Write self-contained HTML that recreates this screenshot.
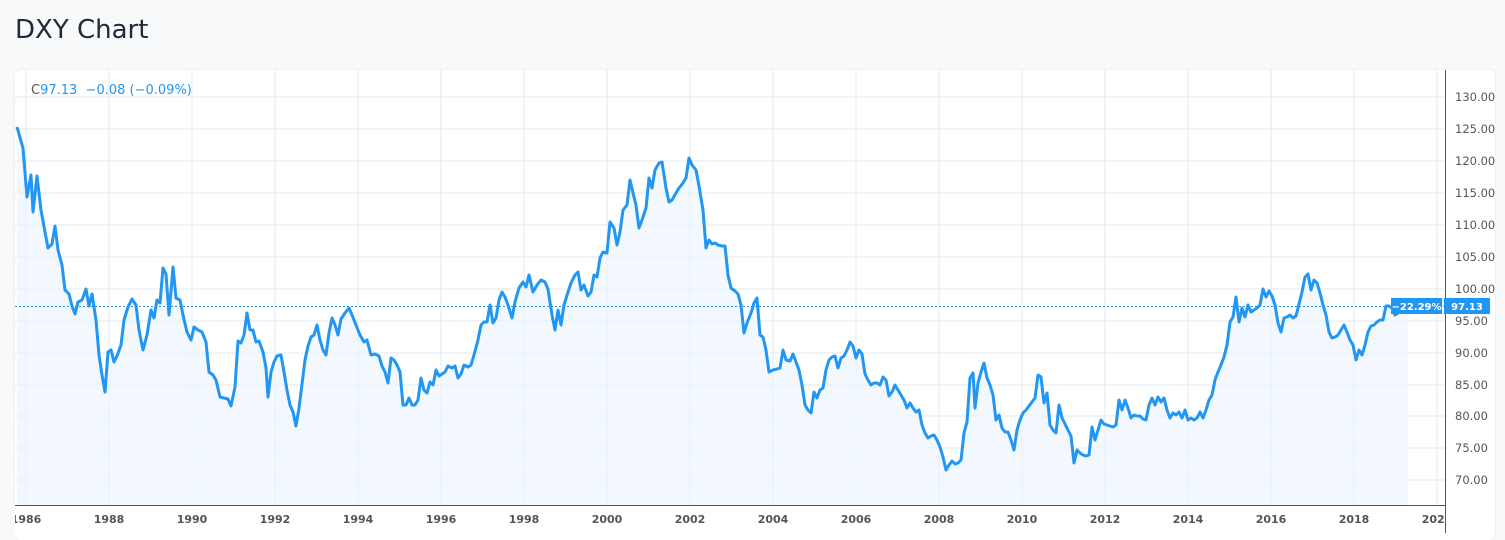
<!DOCTYPE html>
<html><head><meta charset="utf-8"><style>
body{margin:0;width:1505px;height:540px;background:#f8f9fb;overflow:hidden;font-family:"DejaVu Sans","Liberation Sans",sans-serif}
.t{position:absolute;left:15px;top:15px;font-size:26px;color:#222a3a}
.p{position:absolute;left:15px;top:70px;width:1480px;height:470px;background:#fff;border-radius:6px;box-shadow:0 0 3px rgba(0,0,0,.08)}
svg{position:absolute;left:0;top:0}
</style></head><body>
<div class="t">DXY Chart</div>
<div class="p"></div>
<svg width="1505" height="540" font-family="DejaVu Sans, Liberation Sans, sans-serif">
<defs><clipPath id="c"><rect x="15" y="70" width="1430" height="435"/></clipPath></defs>
<g stroke="#e1eaf3" stroke-width="1">
<line x1="15" x2="1445" y1="97" y2="97"/><line x1="15" x2="1445" y1="129" y2="129"/><line x1="15" x2="1445" y1="161" y2="161"/><line x1="15" x2="1445" y1="193" y2="193"/><line x1="15" x2="1445" y1="225" y2="225"/><line x1="15" x2="1445" y1="257" y2="257"/><line x1="15" x2="1445" y1="289" y2="289"/><line x1="15" x2="1445" y1="321" y2="321"/><line x1="15" x2="1445" y1="353" y2="353"/><line x1="15" x2="1445" y1="385" y2="385"/><line x1="15" x2="1445" y1="416" y2="416"/><line x1="15" x2="1445" y1="448" y2="448"/><line x1="15" x2="1445" y1="480" y2="480"/>
<line x1="26" x2="26" y1="70" y2="505"/><line x1="109" x2="109" y1="70" y2="505"/><line x1="192" x2="192" y1="70" y2="505"/><line x1="275" x2="275" y1="70" y2="505"/><line x1="358" x2="358" y1="70" y2="505"/><line x1="441" x2="441" y1="70" y2="505"/><line x1="524" x2="524" y1="70" y2="505"/><line x1="607" x2="607" y1="70" y2="505"/><line x1="690" x2="690" y1="70" y2="505"/><line x1="773" x2="773" y1="70" y2="505"/><line x1="856" x2="856" y1="70" y2="505"/><line x1="939" x2="939" y1="70" y2="505"/><line x1="1022" x2="1022" y1="70" y2="505"/><line x1="1105" x2="1105" y1="70" y2="505"/><line x1="1188" x2="1188" y1="70" y2="505"/><line x1="1271" x2="1271" y1="70" y2="505"/><line x1="1354" x2="1354" y1="70" y2="505"/><line x1="1437" x2="1437" y1="70" y2="505"/>
</g>
<g clip-path="url(#c)">
<polygon id="fill" fill="#e9f4fd" fill-opacity="0.6" points=""/>
<polyline id="ln" fill="none" stroke="#2196f3" stroke-width="3" stroke-linejoin="round" points="17,127 23,148 27,197 31,175 33,212 37,176 41,210 45,232 48,248 52,244 55,226 58,250 62,265 65,290 69,294 72,306 75,314 78,302 82,300 86,289 89,306 92,294 96,320 99,355 102,375 105,392 108,352 111,350 114,362 117,356 121,345 124,320 128,307 132,299 136,305 139,330 143,350 147,335 151,310 154,318 157,300 160,303 163,268 166,274 169,315 173,267 176,298 180,300 183,315 187,332 191,340 194,327 198,330 202,332 206,342 209,372 213,375 216,380 220,397 224,398 228,399 231,406 235,387 238,341 241,343 244,335 247,313 250,330 253,330 256,342 259,341 263,352 266,368 268,397 271,372 274,362 277,356 281,355 284,372 287,390 290,405 293,412 296,426 299,408 302,384 305,360 308,346 311,337 314,335 317,325 320,340 323,350 326,355 329,333 332,318 335,325 338,335 341,319 345,313 349,308 352,315 356,325 360,335 364,342 367,340 371,355 375,354 379,356 382,366 385,372 388,383 391,358 394,360 397,365 400,372 403,405 406,405 409,398 412,405 415,405 418,400 421,378 424,390 427,393 430,382 433,385 436,370 439,376 442,374 445,372 448,366 452,368 455,366 458,378 461,374 464,365 468,367 471,365 474,355 478,340 481,325 484,322 487,322 490,305 493,323 496,318 499,300 502,292 505,297 508,305 512,318 515,302 519,288 523,282 526,287 529,275 533,292 537,285 541,280 545,282 548,289 552,315 555,330 558,310 561,325 564,305 568,292 571,283 575,275 578,272 581,290 584,285 588,296 591,292 594,275 597,277 600,258 603,252 607,253 610,222 614,228 617,245 620,232 623,210 627,205 630,180 633,193 636,205 639,228 642,220 646,208 649,178 652,188 655,170 659,163 662,162 666,188 669,202 672,200 676,193 679,188 683,183 686,178 689,158 692,165 696,170 699,186 703,210 706,248 709,240 712,244 715,243 718,245 722,246 725,246 728,275 731,288 735,291 738,294 741,305 744,333 747,323 751,313 754,303 757,298 760,335 763,337 766,350 769,372 773,370 777,369 780,368 783,350 786,360 790,361 793,354 796,362 799,370 802,385 805,405 808,410 811,413 814,392 817,398 820,390 823,388 826,370 829,360 832,357 835,356 838,368 841,358 844,356 847,350 850,342 853,346 856,358 859,350 862,354 865,374 868,380 871,385 874,383 877,383 880,385 883,377 886,380 889,396 892,392 895,385 898,390 901,395 904,400 907,408 910,403 913,408 916,412 919,410 922,425 925,433 928,438 931,436 934,435 937,440 940,447 943,457 946,470 949,465 952,461 955,464 958,463 961,460 964,433 967,422 970,378 973,373 975,408 978,383 981,372 984,363 987,378 990,385 993,395 996,420 999,415 1002,428 1005,432 1008,432 1011,440 1014,450 1017,430 1020,420 1023,413 1026,410 1029,406 1032,402 1035,398 1038,375 1041,377 1044,403 1047,393 1050,425 1053,430 1056,433 1059,405 1062,418 1065,424 1068,430 1071,436 1074,463 1077,450 1080,453 1083,455 1086,456 1089,455 1092,427 1095,440 1098,430 1101,420 1104,424 1107,425 1110,426 1113,427 1116,425 1119,400 1122,410 1125,400 1128,408 1131,418 1134,415 1137,416 1140,416 1143,419 1146,420 1149,405 1152,398 1155,405 1158,397 1161,402 1164,398 1167,410 1170,418 1173,413 1176,415 1179,412 1182,418 1185,410 1188,420 1191,418 1194,420 1197,418 1200,412 1203,418 1206,410 1209,400 1212,395 1215,380 1218,372 1221,365 1224,357 1227,345 1230,322 1233,317 1236,297 1239,322 1242,308 1245,317 1248,305 1251,312 1254,310 1257,308 1260,305 1263,289 1266,297 1269,291 1272,296 1275,305 1278,323 1281,332 1284,318 1287,317 1290,315 1293,318 1296,316 1299,304 1302,292 1305,277 1308,274 1311,290 1314,280 1317,283 1320,293 1323,305 1326,315 1329,332 1332,338 1335,337 1338,335 1341,330 1344,325 1347,332 1350,340 1353,345 1356,360 1359,350 1362,355 1365,345 1368,332 1371,326 1374,325 1377,322 1380,320 1383,320 1386,306 1389,306 1392,308 1395,315 1398,313 1400,312"/>
</g>
<line x1="15" x2="1445" y1="306.5" y2="306.5" stroke="#2196f3" stroke-width="1" stroke-dasharray="2,2"/>
<line x1="1445.5" x2="1445.5" y1="70" y2="533" stroke="#555" stroke-width="1"/>
<line x1="15" x2="1445" y1="505.5" y2="505.5" stroke="#555" stroke-width="1"/>
<g font-size="11.5" fill="#555" text-anchor="start">
<text x="1455" y="101">130.00</text><text x="1455" y="133">125.00</text><text x="1455" y="165">120.00</text><text x="1455" y="197">115.00</text><text x="1455" y="229">110.00</text><text x="1455" y="261">105.00</text><text x="1455" y="293">100.00</text><text x="1455" y="325">95.00</text><text x="1455" y="357">90.00</text><text x="1455" y="389">85.00</text><text x="1455" y="420">80.00</text><text x="1455" y="452">75.00</text><text x="1455" y="484">70.00</text>
</g>
<rect x="1391" y="298" width="51" height="16" fill="#2196f3"/>
<rect x="1444" y="298" width="46" height="16" fill="#2196f3"/>
<g font-size="10" fill="#fff" font-weight="bold"><text x="1416.5" y="310" text-anchor="middle">−22.29%</text><text x="1467" y="310" text-anchor="middle">97.13</text></g>
<g font-size="11" fill="#555" font-weight="bold" text-anchor="middle">
<text x="26" y="523">1986</text><text x="109" y="523">1988</text><text x="192" y="523">1990</text><text x="275" y="523">1992</text><text x="358" y="523">1994</text><text x="441" y="523">1996</text><text x="524" y="523">1998</text><text x="607" y="523">2000</text><text x="690" y="523">2002</text><text x="773" y="523">2004</text><text x="856" y="523">2006</text><text x="939" y="523">2008</text><text x="1022" y="523">2010</text><text x="1105" y="523">2012</text><text x="1188" y="523">2014</text><text x="1271" y="523">2016</text><text x="1354" y="523">2018</text>
</g>
<svg x="1420" y="505" width="25" height="30"><text x="17" y="18" font-size="11" fill="#555" font-weight="bold" text-anchor="middle">2020</text></svg>
<rect x="0" y="505" width="15" height="35" fill="#f8f9fb"/>
<text x="31" y="94" font-size="13" fill="#555">C<tspan fill="#2196f3">97.13 &#160;−0.08 (−0.09%)</tspan></text>
<script>
var p=document.getElementById('ln').getAttribute('points');
document.getElementById('fill').setAttribute('points',p+' 1408,312 1408,505 17,505');
</script>
</svg>
</body></html>
